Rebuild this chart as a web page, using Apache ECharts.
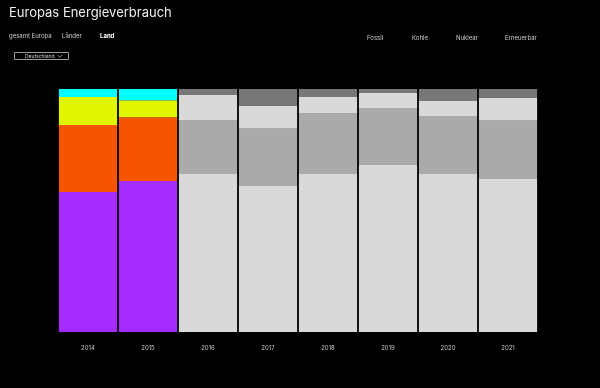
<!DOCTYPE html>
<html><head><meta charset="utf-8">
<script src="https://cdn.jsdelivr.net/npm/echarts@6/dist/echarts.min.js"></script>
<style>html,body{margin:0;padding:0;background:#000;}#c{width:600px;height:388px;}</style>
</head><body><div id="c"></div>
<script>
const years = ['2014','2015','2016','2017','2018','2019','2020','2021'];
const seriesNames = ['Fossil','Kohle','Nuklear','Erneuerbar'];
const fossil     = [57.6, 62.1, 65.0, 60.1, 65.0, 68.7, 65.0, 63.0];
const kohle      = [27.6, 26.3, 22.2, 23.5, 25.1, 23.5, 23.9, 23.9];
const nuklear    = [11.5,  7.0, 10.3,  9.4,  6.6,  6.2,  6.2,  9.4];
const erneuerbar = [ 3.3,  4.6,  2.5,  7.0,  3.3,  1.6,  4.9,  3.7];
const highlighted = ['2014','2015'];

const colors = ['#a52cff','#f55500','#e0f500','#00ffff'];
const grays  = ['#d9d9d9','#aaaaaa','#d9d9d9','#777777'];
const FONT = 'Inter';

const chart = echarts.init(document.getElementById('c'));
const dataSets = [fossil, kohle, nuklear, erneuerbar];
chart.setOption({
  backgroundColor: '#000',
  animation: false,
  grid: {left: 58, right: 62, top: 89, bottom: 56},
  xAxis: {
    type: 'category', data: years,
    axisLine: {show: false}, axisTick: {show: false},
    axisLabel: {color: '#c4c4c4', fontSize: 6, fontFamily: FONT, margin: 13}
  },
  yAxis: {type: 'value', min: 0, max: 100, show: false, splitLine: {show: false}},
  series: dataSets.map((d, i) => ({
    name: seriesNames[i], type: 'bar', stack: 'all',
    barCategoryGap: '3%',
    data: d.map((v, j) => ({
      value: v,
      itemStyle: {color: highlighted.includes(years[j]) ? colors[i] : grays[i]}
    }))
  })),
  graphic: [
    {type: 'text', left: 9, top: 7, style: {text: 'Europas Energieverbrauch', fill: '#eeeeee', fontSize: 13, fontFamily: FONT}},
    {type: 'text', left: 9, top: 33, style: {text: 'gesamt Europa', fill: '#cccccc', fontSize: 6, fontFamily: FONT}},
    {type: 'text', left: 62, top: 33, style: {text: 'Länder', fill: '#cccccc', fontSize: 6, fontFamily: FONT}},
    {type: 'text', left: 100, top: 33, style: {text: 'Land', fill: '#ffffff', fontSize: 6, fontWeight: 'bold', fontFamily: FONT}},
    {type: 'rect', shape: {x: 14.5, y: 52.5, width: 54, height: 7}, style: {fill: '#000', stroke: '#999', lineWidth: 1}},
    {type: 'text', left: 25, top: 53.5, style: {text: 'Deutschland', fill: '#cccccc', fontSize: 5, fontFamily: FONT}},
    {type: 'polyline', shape: {points: [[57.5, 55], [59.7, 57.2], [62, 55]]}, style: {stroke: '#cccccc', lineWidth: 0.7, fill: null}},
    {type: 'text', left: 367, top: 35, style: {text: seriesNames[0], fill: '#cccccc', fontSize: 6, fontFamily: FONT}},
    {type: 'text', left: 412, top: 35, style: {text: seriesNames[1], fill: '#cccccc', fontSize: 6, fontFamily: FONT}},
    {type: 'text', left: 456, top: 35, style: {text: seriesNames[2], fill: '#cccccc', fontSize: 6, fontFamily: FONT}},
    {type: 'text', left: 505, top: 35, style: {text: seriesNames[3], fill: '#cccccc', fontSize: 6, fontFamily: FONT}}
  ]
});
</script></body></html>
